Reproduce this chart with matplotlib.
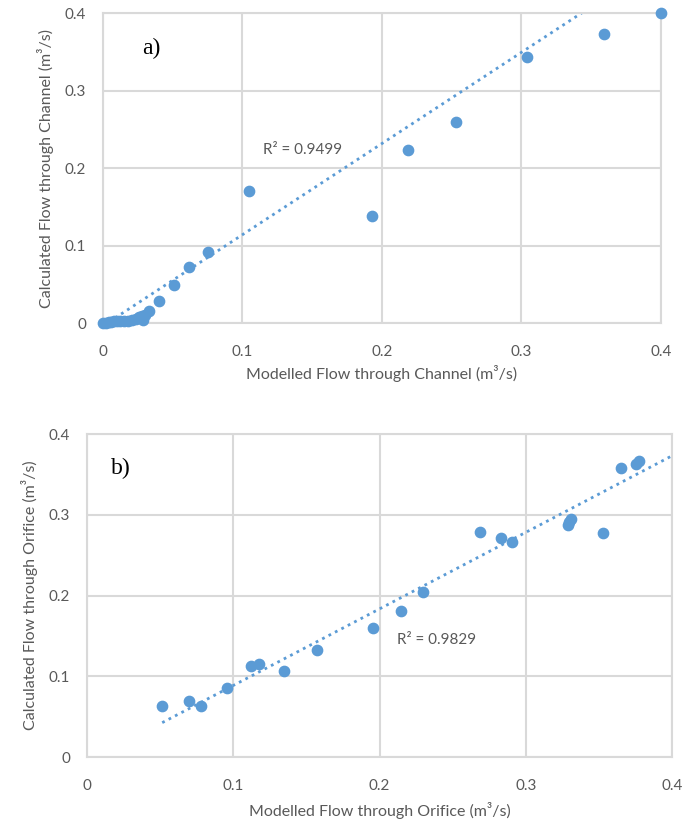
import matplotlib
matplotlib.use('Agg')
import matplotlib.pyplot as plt
import numpy as np

# Panel a) channel flow
chan_modelled = [0.0, 0.002, 0.004, 0.006, 0.008, 0.010, 0.012, 0.015, 0.018, 0.021,
                 0.024, 0.026, 0.028, 0.029, 0.030, 0.033, 0.040, 0.051, 0.0615,
                 0.0755, 0.1045, 0.193, 0.219, 0.253, 0.304, 0.359, 0.400]
chan_calc = [0.0, 0.0, 0.001, 0.001, 0.002, 0.002, 0.003, 0.003, 0.003, 0.004,
             0.005, 0.008, 0.009, 0.004, 0.010, 0.015, 0.029, 0.049, 0.072,
             0.092, 0.171, 0.138, 0.223, 0.260, 0.343, 0.373, 0.400]
chan_trend = (1.177, -0.0037)   # slope, intercept
chan_r2 = "R² = 0.9499"

# Panel b) orifice flow
orif_modelled = [0.0514, 0.0694, 0.078, 0.0954, 0.1124, 0.1178, 0.1348, 0.1575,
                 0.1958, 0.2144, 0.2299, 0.2685, 0.2831, 0.2903, 0.3285, 0.3297,
                 0.3306, 0.3525, 0.3653, 0.3755, 0.3773]
orif_calc = [0.0629, 0.0691, 0.0629, 0.086, 0.113, 0.1158, 0.107, 0.133,
             0.160, 0.181, 0.205, 0.279, 0.272, 0.267, 0.287, 0.2916,
             0.2945, 0.2776, 0.358, 0.363, 0.367]
orif_trend = (0.949, -0.0062)
orif_r2 = "R² = 0.9829"

ticks = [0, 0.1, 0.2, 0.3, 0.4]
tick_labels = ['0', '0.1', '0.2', '0.3', '0.4']

blue = '#5B9BD5'
grid_col = '#D9D9D9'
text_col = '#595959'

plt.rcParams['font.family'] = ['Lato', 'DejaVu Sans']

fig = plt.figure(figsize=(6.82, 8.24), dpi=100)
ax_a = fig.add_axes([0.151, 0.608, 0.818, 0.376])
ax_b = fig.add_axes([0.1276, 0.0813, 0.858, 0.3917])


def style_axes(ax, xlabel, ylabel, xpad):
    ax.set_xlim(0, 0.4)
    ax.set_ylim(0, 0.4)
    ax.set_xticks(ticks)
    ax.set_xticklabels(tick_labels)
    ax.set_yticks(ticks)
    ax.set_yticklabels(tick_labels)
    ax.tick_params(length=0, labelsize=11, labelcolor=text_col)
    ax.tick_params(axis='x', pad=16)
    ax.tick_params(axis='y', pad=12)
    ax.grid(True, color=grid_col, linewidth=1.5)
    ax.set_axisbelow(True)
    for sp in ax.spines.values():
        sp.set_color(grid_col)
        sp.set_linewidth(1.5)
    ax.set_xlabel(xlabel, fontsize=11.5, color=text_col, labelpad=xpad)
    ax.set_ylabel(ylabel, fontsize=11.5, color=text_col, labelpad=8)


# a)
style_axes(ax_a, 'Modelled Flow through Channel (m³/s)',
           'Calculated Flow through Channel (m³/s)', 4)
xa = np.linspace(0, 0.4, 200)
ax_a.plot(xa, chan_trend[0] * xa + chan_trend[1], color=blue, linestyle=(0, (1, 1.6)),
          linewidth=2, zorder=2)
ax_a.scatter(chan_modelled, chan_calc, s=55, color=blue, zorder=3, clip_on=False)
ax_a.text(0.115, 0.223, chan_r2, fontsize=11, color=text_col, va='center')
ax_a.text(0.028, 0.354, 'a)', fontsize=17, family='Liberation Serif', va='center')

# b)
style_axes(ax_b, 'Modelled Flow through Orifice (m³/s)',
           'Calculated Flow through Orifice (m³/s)', 6)
xb = np.linspace(min(orif_modelled), 0.4, 200)
ax_b.plot(xb, orif_trend[0] * xb + orif_trend[1], color=blue, linestyle=(0, (1, 1.6)),
          linewidth=2, zorder=2)
ax_b.scatter(orif_modelled, orif_calc, s=55, color=blue, zorder=3, clip_on=False)
ax_b.text(0.212, 0.145, orif_r2, fontsize=11, color=text_col, va='center')
ax_b.text(0.0164, 0.358, 'b)', fontsize=17, family='Liberation Serif', va='center')

fig.savefig('out.png', dpi=100)
